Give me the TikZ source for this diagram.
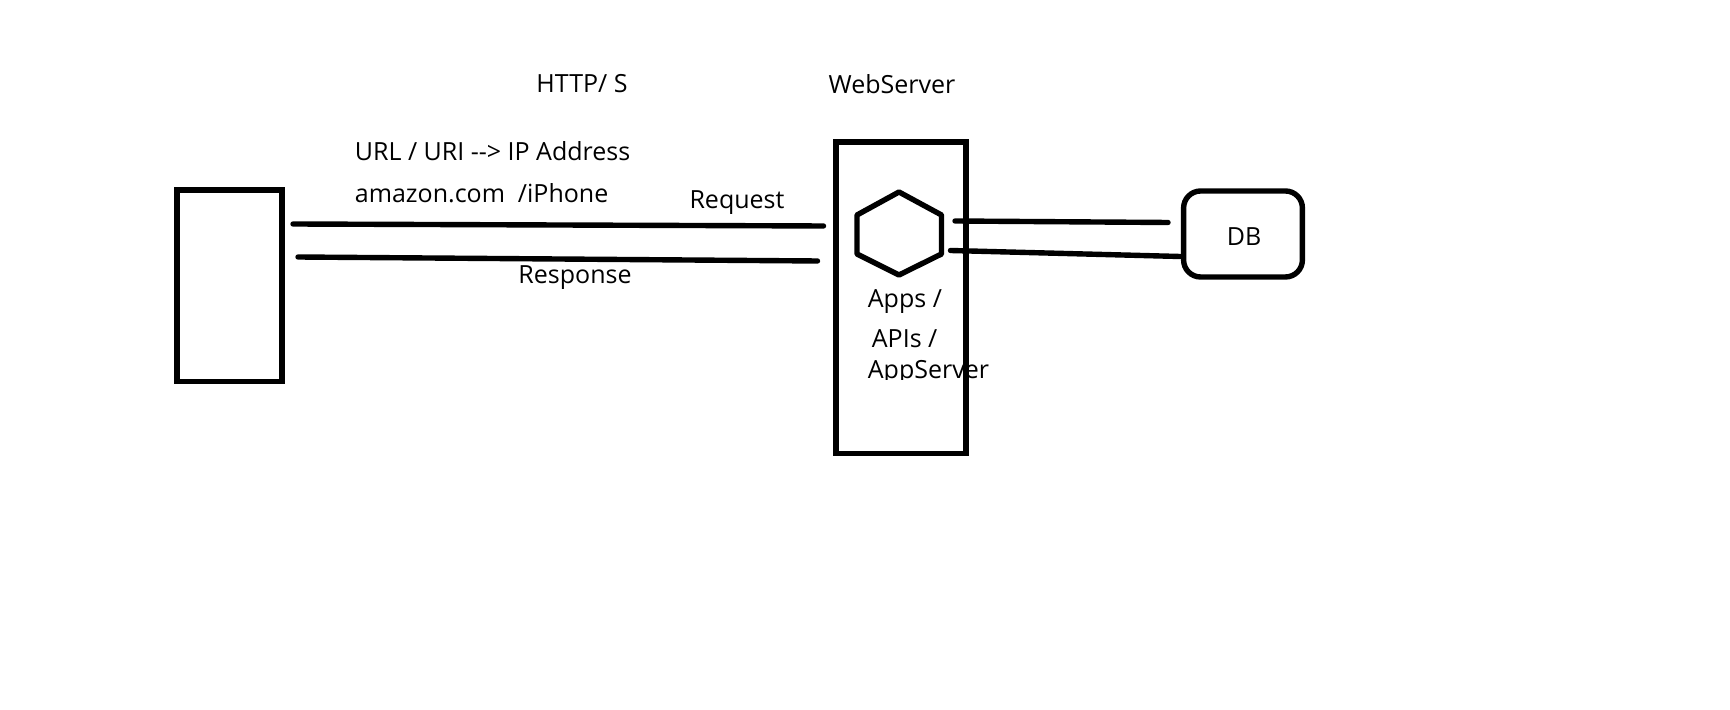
\documentclass[tikz,border=0pt]{standalone}
\usepackage{fontspec}
\setmainfont{Open Sans}
\usepackage{tikz}
\usetikzlibrary{shapes}

\tikzset{
  thick line/.style={line width=2.7pt, line cap=round},
  box/.style={draw, line width=2.7pt, rectangle, inner sep=0pt},
  label text/.style={inner sep=0.75pt, font=\fontsize{12.5}{14}\selectfont}
}

\begin{document}
\begin{tikzpicture}[x=0.5pt,y=0.5pt,yscale=-1,xscale=1]
\useasboundingbox (0,0) rectangle (1730,710);

%Shape: Rectangle [id:client]
\node [box, minimum width=52.4pt, minimum height=95.8pt] (client) at (229.5,286) {};
%Shape: Rectangle [id:webserver]
\node [box, minimum width=65pt, minimum height=155.8pt] (webserver) at (900.8,297.7) {};
%Shape: Hexagon [id:app]
\draw [line width=2.7pt, line join=round] (899,192) -- (941.5,215) -- (941.5,254) -- (899,275) -- (857,254) -- (857,215) -- cycle ;
\coordinate (app) at (899,233.5);
%Shape: Rounded Rect [id:db]
\node [box, rounded corners=8.5pt, minimum width=59.4pt, minimum height=43pt] (db) at (1243,234) {};

%Straight Lines [id:request]
\coordinate (req-a) at (293,224);
\coordinate (req-b) at (823.5,226);
\draw [thick line] (req-a) -- (req-b) ;
%Straight Lines [id:response]
\coordinate (res-a) at (298,257);
\coordinate (res-b) at (817.5,261);
\draw [thick line] (res-a) -- (res-b) ;
%Straight Lines [id:dbline1]
\coordinate (dba-a) at (955,221);
\coordinate (dba-b) at (1168,222.5);
\draw [thick line] (dba-a) -- (dba-b) ;
%Straight Lines [id:dbline2]
\coordinate (dbb-a) at (950.5,250.5);
\coordinate (dbb-b) at (1180,256.5);
\draw [thick line] (dbb-a) -- (dbb-b) ;

% Text Node
\node [label text] (http) at (582,84) {HTTP/ S};
% Text Node
\node [label text] (websrv) at (892,84) {WebServer};
% Text Node
\node [label text, anchor=west] (url) at (353,151) {URL / URI {-}{-}> IP Address};
% Text Node
\node [label text, anchor=west] (amazon) at (353,193) {amazon.com \ /iPhone};
% Text Node
\node [label text] (request) at (737,203) {Request};
% Text Node
\node [label text] (response) at (575,278) {Response};
% Text Node
\node [label text, anchor=west] (apps) at (866,302) {Apps /};
% Text Node
\node [label text, anchor=west] (apis) at (870,339) {APIs /};
% Text Node
\begin{scope}
\clip (840,350) rectangle (1000,380);
\node [label text, anchor=west] (appserver) at (866,372) {AppServer};
\end{scope}
% Text Node
\node [label text] (dbtext) at (1244,237) {DB};

\end{tikzpicture}
\end{document}
